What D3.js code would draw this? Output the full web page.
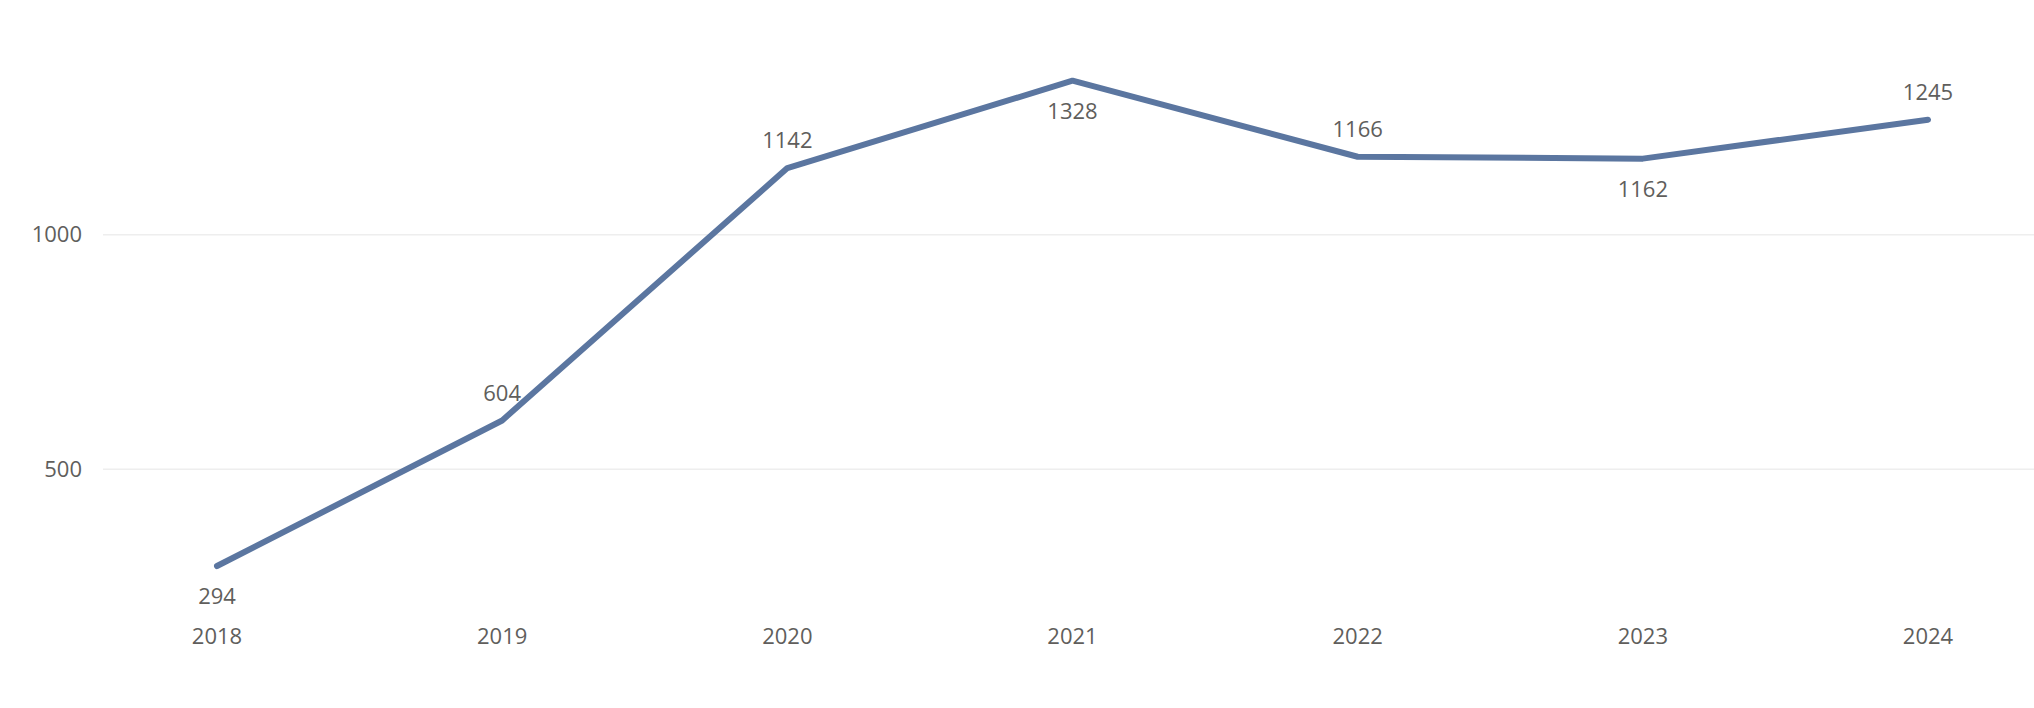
<!DOCTYPE html>
<html>
<head>
<meta charset="utf-8">
<script src="https://cdn.jsdelivr.net/npm/d3@7"></script>
<style>
  body { margin: 0; background: #fff; }
  text { font-family: "Open Sans", "Noto Sans", sans-serif; fill: #605E5C; }
</style>
</head>
<body>
<svg id="chart" width="2034" height="708"></svg>
<script>
var years = ["2018", "2019", "2020", "2021", "2022", "2023", "2024"];
var values = [294, 604, 1142, 1328, 1166, 1162, 1245];
var labelSide = ["below", "above", "above", "below", "above", "below", "above"];
var yTicks = [500, 1000];

var svg = d3.select("#chart"),
  width = +svg.attr("width"),
  height = +svg.attr("height"),
  gridLeft = 103;

var x = d3.scalePoint().domain(years).range([217, 1928]),
  y = d3.scaleLinear().domain([0, 1500]).range([704, 0]);

var data = years.map(function (d, i) {
  return { year: d, value: values[i], side: labelSide[i] };
});

// gridlines + y labels
var yAxis = svg.append("g").attr("class", "axis axis--y");
yAxis.selectAll("line")
  .data(yTicks)
  .enter().append("line")
  .attr("x1", gridLeft)
  .attr("x2", width)
  .attr("y1", function (d) { return y(d); })
  .attr("y2", function (d) { return y(d); })
  .attr("stroke", "#EEEEEE")
  .attr("stroke-width", 1.5);
yAxis.selectAll("text")
  .data(yTicks)
  .enter().append("text")
  .attr("x", 82)
  .attr("y", function (d) { return y(d); })
  .attr("dy", "0.35em")
  .attr("text-anchor", "end")
  .style("font-size", "22px")
  .text(function (d) { return d; });

// x labels
svg.append("g")
  .attr("class", "axis axis--x")
  .selectAll("text")
  .data(years)
  .enter().append("text")
  .attr("x", function (d) { return x(d); })
  .attr("y", 644)
  .attr("text-anchor", "middle")
  .style("font-size", "22px")
  .text(function (d) { return d; });

// line
var line = d3.line()
  .x(function (d) { return x(d.year); })
  .y(function (d) { return y(d.value); });

svg.append("path")
  .datum(data)
  .attr("fill", "none")
  .attr("stroke", "#5B76A0")
  .attr("stroke-width", 6)
  .attr("stroke-linecap", "round")
  .attr("stroke-linejoin", "round")
  .attr("d", line);

// data labels
svg.append("g")
  .attr("class", "labels")
  .selectAll("text")
  .data(data)
  .enter().append("text")
  .attr("x", function (d) { return x(d.year); })
  .attr("y", function (d) { return y(d.value) + (d.side === "above" ? -20 : 38); })
  .attr("text-anchor", "middle")
  .style("font-size", "22px")
  .text(function (d) { return d.value; });
</script>
</body>
</html>
